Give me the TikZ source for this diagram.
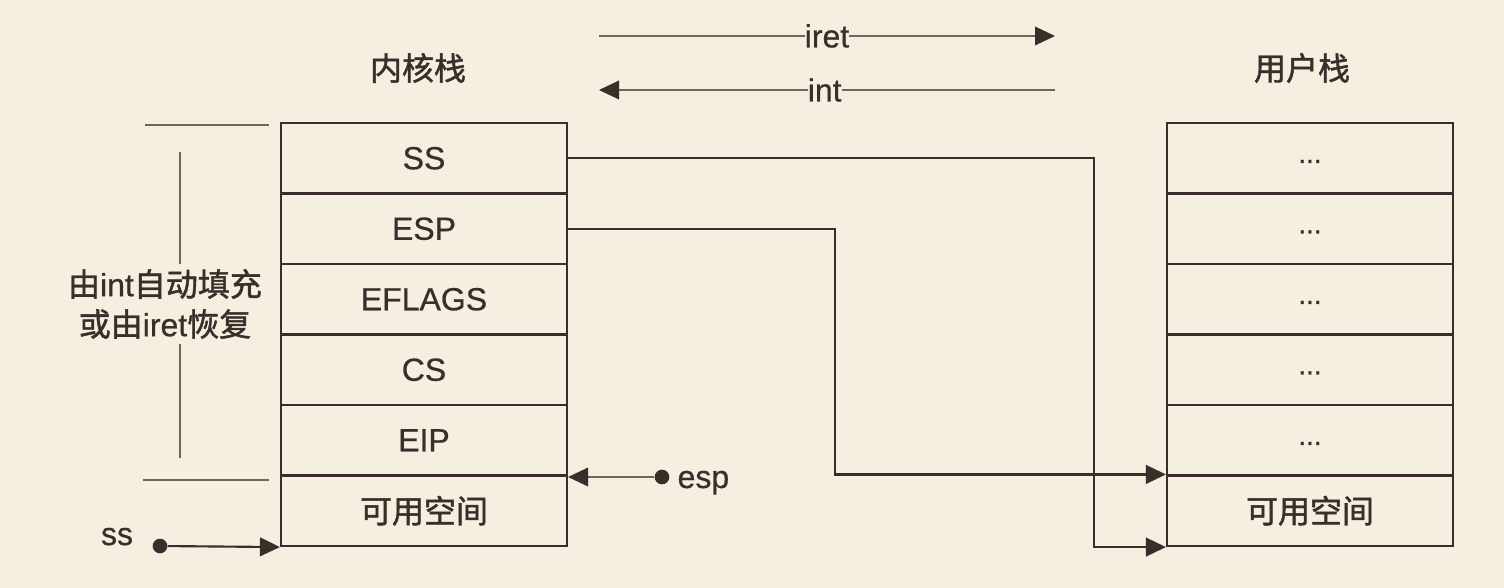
\documentclass[tikz,border=0pt]{standalone}
\usepackage{fontspec}
\setmainfont[FakeBold=0.6]{Liberation Sans}
\newfontfamily\cjk[FakeBold=1.4]{Noto Sans CJK SC}
\usetikzlibrary{arrows.meta}
\definecolor{bg}{HTML}{F4EFE0}
\definecolor{ink}{HTML}{3A2F27}
\definecolor{faint}{HTML}{6E655B}
\tikzset{
  cell/.style={draw=ink, line width=1.6pt, minimum width=214.5pt, minimum height=52.875pt, inner sep=0pt, text=ink},
  lbl/.style={text=ink, inner sep=1pt},
  conn/.style={draw=ink, line width=1.6pt},
  arr/.style={-{Triangle[length=15pt,width=14pt]}},
  inktip/.style={-{Triangle[length=15pt,width=14pt,color=ink]}},
  inktipstart/.style={{Triangle[length=15pt,width=14pt,color=ink]}-},
  thinline/.style={draw=faint, line width=1pt},
  dotnode/.style={circle, fill=ink, inner sep=0pt, minimum size=11pt},
  dots/.style={cell, font=\fontsize{21}{24}\selectfont}
}
\newcommand{\mydots}{\raisebox{-7pt}{...}}
\begin{document}
\begin{tikzpicture}[x=0.75pt,y=-0.75pt, font=\fontsize{24}{30}\selectfont]
\fill[bg] (0,0) rectangle (1504,588);
\useasboundingbox (0,0) rectangle (1504,588);

% titles
\node[lbl] (tk) at (418,68) {\cjk 内核栈};
\node[lbl] (tu) at (1302,68) {\cjk 用户栈};

% kernel stack
\node[cell] (k1) at (424,158.25) {SS};
\node[cell] (k2) at (424,228.75) {ESP};
\node[cell] (k3) at (424,299.25) {EFLAGS};
\node[cell] (k4) at (424,369.75) {CS};
\node[cell] (k5) at (424,440.25) {EIP};
\node[cell] (k6) at (424,510.75) {\cjk 可用空间};

% user stack
\node[dots] (u1) at (1310,158.25) {\mydots};
\node[dots] (u2) at (1310,228.75) {\mydots};
\node[dots] (u3) at (1310,299.25) {\mydots};
\node[dots] (u4) at (1310,369.75) {\mydots};
\node[dots] (u5) at (1310,440.25) {\mydots};
\node[cell] (u6) at (1310,510.75) {\cjk 可用空间};

% iret / int
\coordinate (ia) at (599,36);
\coordinate (ib) at (1055,36);
\coordinate (na) at (599,90);
\coordinate (nb) at (1055,90);
\draw[thinline, inktip] (ia) -- node[lbl, fill=bg, inner sep=0pt] (iret) {iret} (ib);
\draw[thinline, inktipstart] (na) -- node[lbl, fill=bg, inner sep=0pt, pos=0.495] (int) {int} (nb);

% left bracket
\coordinate (bt1) at (145,125);
\coordinate (bt2) at (269,125);
\coordinate (bb1) at (143,480);
\coordinate (bb2) at (269,480);
\coordinate (bv1) at (180,152);
\coordinate (bv2) at (180,458);
\draw[thinline] (bt1) -- (bt2);
\draw[thinline] (bb1) -- (bb2);
\draw[thinline] (bv1) -- (bv2);
\node[lbl, fill=bg, align=center, font=\fontsize{24}{30}\selectfont, inner sep=4pt] (brk) at (165,304)
  {{\cjk 由}int{\cjk 自动填充}\\{\cjk 或由}iret{\cjk 恢复}};

% connectors SS and ESP to user stack
\coordinate (c1) at (1094,0);
\coordinate (c2) at (835,0);
\draw[conn, arr] (k1.east) -| (c1 |- u6.south west) -- (u6.south west);
\draw[conn, arr] (k2.east) -| (c2 |- u6.north west) -- (u6.north west);

% esp pointer
\node[dotnode] (espdot) at (662,477) {};
\node[lbl, anchor=base west] (esplbl) at (676,488) {esp};
\draw[thinline, line width=1.1pt, inktip] (espdot) -- (espdot -| k6.north east);

% ss pointer
\node[dotnode] (ssdot) at (160,546) {};
\node[lbl, anchor=base] (sslbl) at (117,545) {ss};
\draw[conn, arr] (ssdot) -- (k6.south west);
\end{tikzpicture}
\end{document}
